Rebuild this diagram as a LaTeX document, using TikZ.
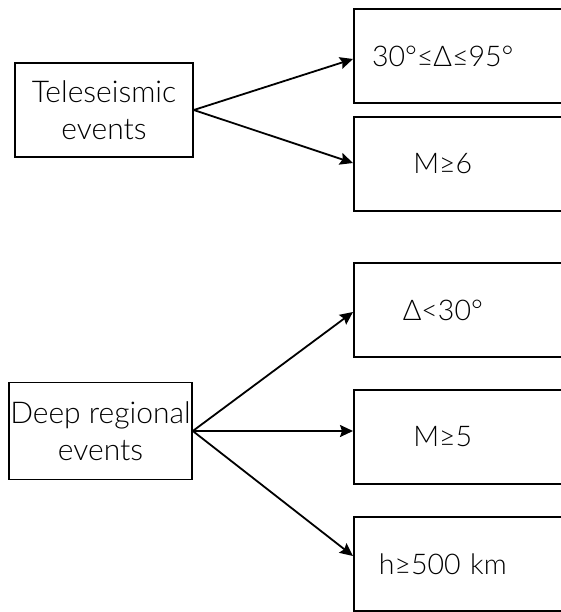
\documentclass[tikz,border=0pt]{standalone}
\usepackage{fontspec}
\setmainfont{Lato Light}
\usepackage{tikz}
\usetikzlibrary{arrows.meta, positioning}

\begin{document}
\begin{tikzpicture}[x=1pt, y=-1pt,
  box/.style={draw, line width=1.6pt, minimum width=178pt, minimum height=94pt,
              inner sep=0pt, align=center,
              font=\fontsize{30}{37}\selectfont},
  crit/.style={draw, line width=1.6pt, minimum height=94pt, inner xsep=0pt,
               text width=267pt, align=left, anchor=west,
               font=\fontsize{28.5}{35}\selectfont},
  arr/.style={-{Stealth[length=13pt, width=12pt, inset=2pt]}, line width=1.8pt},
]
  \clip (0,0) rectangle (561,612);
  % Top: teleseismic events
  \node[box]  (tele)  at (104, 110)  {Teleseismic\\events};
  \node[crit] (tdist) at (353, 56)   {\makebox[178pt]{30°≤Δ≤95°}};
  \node[crit] (tmag)  at (353, 164)  {\makebox[178pt]{M≥6}};
  % Bottom: deep regional events
  \node[box, minimum width=183pt, minimum height=97pt]
              (deep)  at (100.5, 431) {Deep regional\\events};
  \node[crit] (ddist) at (353, 310)  {\makebox[178pt]{Δ<30°}};
  \node[crit] (dmag)  at (353, 437)  {\makebox[178pt]{M≥5}};
  \node[crit] (ddep)  at (353, 564)  {\makebox[178pt]{h≥500 km}};
  % Arrows
  \draw[arr] (tele.east) -- ([yshift=-3pt]tdist.west);
  \draw[arr] (tele.east) -- ([yshift=1pt]tmag.west);
  \draw[arr] (deep.east) -- ([yshift=-2pt]ddist.west);
  \draw[arr] (deep.east) -- (deep.east -| dmag.west);
  \draw[arr] (deep.east) -- ([yshift=8pt]ddep.west);
\end{tikzpicture}
\end{document}
